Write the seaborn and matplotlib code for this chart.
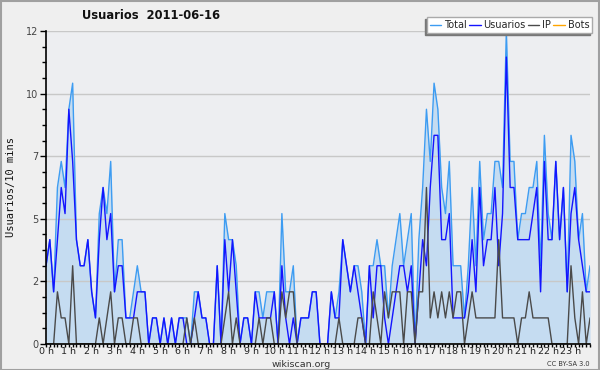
import matplotlib
matplotlib.use("Agg")
import matplotlib.pyplot as plt
import seaborn as sns
import pandas as pd
from matplotlib.patches import Rectangle
from matplotlib.lines import Line2D
from matplotlib.ticker import FixedLocator, MultipleLocator

# ---- data (10-minute intervals, 144 points) ----
total = [
    3, 4, 2, 6, 7, 6, 9, 10, 4, 3,
    3, 4, 2, 1, 5, 6, 5, 7, 2, 4,
    4, 1, 1, 2, 3, 2, 2, 0, 1, 1,
    0, 1, 0, 1, 0, 1, 1, 1, 0, 2,
    2, 1, 1, 0, 0, 3, 0, 5, 4, 4,
    3, 0, 1, 1, 0, 2, 2, 1, 2, 2,
    2, 0, 5, 2, 2, 3, 0, 1, 1, 1,
    2, 2, 0, 0, 0, 2, 1, 2, 4, 3,
    2, 3, 3, 2, 0, 3, 3, 4, 3, 3,
    1, 3, 4, 5, 3, 4, 5, 0, 4, 6,
    9, 7, 10, 9, 6, 5, 7, 3, 3, 3,
    1, 3, 6, 3, 7, 4, 5, 5, 7, 7,
    6, 12, 7, 7, 4, 5, 5, 6, 6, 7,
    3, 8, 5, 4, 7, 4, 6, 2, 8, 7,
    4, 5, 2, 3,
]
usuarios = [
    3, 4, 2, 4, 6, 5, 9, 7, 4, 3,
    3, 4, 2, 1, 4, 6, 4, 5, 2, 3,
    3, 1, 1, 1, 2, 2, 2, 0, 1, 1,
    0, 1, 0, 1, 0, 1, 1, 0, 0, 1,
    2, 1, 1, 0, 0, 3, 0, 4, 2, 4,
    2, 0, 1, 1, 0, 2, 1, 1, 1, 1,
    2, 0, 3, 1, 0, 1, 0, 1, 1, 1,
    2, 2, 0, 0, 0, 2, 1, 1, 4, 3,
    2, 3, 2, 1, 0, 3, 1, 3, 3, 1,
    0, 1, 2, 3, 3, 2, 3, 0, 2, 4,
    3, 6, 8, 8, 4, 4, 5, 1, 1, 1,
    1, 2, 4, 2, 6, 3, 4, 4, 6, 3,
    5, 11, 6, 6, 4, 4, 4, 4, 5, 6,
    2, 7, 4, 4, 7, 4, 6, 2, 5, 6,
    4, 3, 2, 2,
]
ip = [
    0, 0, 0, 2, 1, 1, 0, 3, 0, 0,
    0, 0, 0, 0, 1, 0, 1, 2, 0, 1,
    1, 0, 0, 1, 1, 0, 0, 0, 0, 0,
    0, 0, 0, 0, 0, 0, 0, 1, 0, 1,
    0, 0, 0, 0, 0, 0, 0, 1, 2, 0,
    1, 0, 0, 0, 0, 0, 1, 0, 1, 1,
    0, 0, 2, 1, 2, 2, 0, 0, 0, 0,
    0, 0, 0, 0, 0, 0, 0, 1, 0, 0,
    0, 0, 1, 1, 0, 0, 2, 1, 0, 2,
    1, 2, 2, 2, 0, 2, 2, 0, 2, 2,
    6, 1, 2, 1, 2, 1, 2, 1, 2, 2,
    0, 1, 2, 1, 1, 1, 1, 1, 1, 4,
    1, 1, 1, 1, 0, 1, 1, 2, 1, 1,
    1, 1, 1, 0, 0, 0, 0, 0, 3, 1,
    0, 2, 0, 1,
]
bots = [
    0, 0, 0, 0, 0, 0, 0, 0, 0, 0, 0, 0, 0, 0, 0, 0, 0, 0, 0, 0, 0, 0, 0, 0,
    0, 0, 0, 0, 0, 0, 0, 0, 0, 0, 0, 0, 0, 0, 0, 0, 0, 0, 0, 0, 0, 0, 0, 0,
    0, 0, 0, 0, 0, 0, 0, 0, 0, 0, 0, 0, 0, 0, 0, 0, 0, 0, 0, 0, 0, 0, 0, 0,
    0, 0, 0, 0, 0, 0, 0, 0, 0, 0, 0, 0, 0, 0, 0, 0, 0, 0, 0, 0, 0, 0, 0, 0,
    0, 0, 0, 0, 0, 0, 0, 0, 0, 0, 0, 0, 0, 0, 0, 0, 0, 0, 0, 0, 0, 0, 0, 0,
    0, 0, 0, 0, 0, 0, 0, 0, 0, 0, 0, 0, 0, 0, 0, 0, 0, 0, 0, 0, 0, 0, 0, 0,
]
hour_labels = ["0 h", "1 h", "2 h", "3 h", "4 h", "5 h", "6 h", "7 h",
               "8 h", "9 h", "10 h", "11 h", "12 h", "13 h", "14 h", "15 h",
               "16 h", "17 h", "18 h", "19 h", "20 h", "21 h", "22 h", "23 h"]
y_tick_values = [0, 2.4, 4.8, 7.2, 9.6, 12]
y_tick_labels = ["0", "2", "5", "7", "10", "12"]
series_names = ["Total", "Usuarios", "IP", "Bots"]
series_colors = ["#3d9cf2", "#1414ff", "#4a4a4a", "#ffa500"]

# ---- styling ----
sns.set_style("white")
plt.rcParams['font.family'] = ['DejaVu Sans']

fig = plt.figure(figsize=(6, 3.7), dpi=100, facecolor="#efefef")
ax = fig.add_axes([0.0767, 0.0703, 0.9067, 0.8459])
ax.set_facecolor("#edeef1")

df = pd.DataFrame({"t": range(len(total)), "Total": total,
                   "Usuarios": usuarios, "IP": ip, "Bots": bots})

ax.fill_between(df["t"], df["Total"], 0, color="#c5dcf1", lw=0, zorder=1)
for name, col in zip(series_names, series_colors):
    sns.lineplot(data=df, x="t", y=name, ax=ax, color=col, lw=1.0,
                 legend=False, zorder=3)

ax.set_xlim(0, len(total) - 1)
ax.set_ylim(0, 12)
ax.set_xlabel("")
ax.set_ylabel("")

ax.yaxis.set_major_locator(FixedLocator(y_tick_values))
ax.set_yticklabels(y_tick_labels)
ax.yaxis.set_minor_locator(MultipleLocator(0.6))
ax.xaxis.set_major_locator(FixedLocator(list(range(0, 144, 6))))
ax.set_xticklabels(hour_labels)
ax.xaxis.set_minor_locator(MultipleLocator(1))

ax.tick_params(axis="y", which="major", direction="out", length=4.5, width=1,
               color="black", labelcolor="#444444", labelsize=7, pad=1)
ax.tick_params(axis="y", which="minor", direction="out", length=2.8, width=1,
               color="black")
ax.tick_params(axis="x", which="both", direction="out", length=2.2, width=1,
               color="black", labelcolor="#222222", labelsize=6.8, pad=0.3)
ax.tick_params(left=True, bottom=True, which="both")

ax.yaxis.grid(True, color="#c8c8c8", lw=1)
ax.xaxis.grid(False)
ax.set_axisbelow(False)

for s in ["top", "right"]:
    ax.spines[s].set_visible(False)
for s in ["left", "bottom"]:
    ax.spines[s].set_color("black")
    ax.spines[s].set_linewidth(1.2)
    ax.spines[s].set_zorder(4)

# legend
handles = [Line2D([0], [0], color=c, lw=1.0) for c in series_colors]
leg = fig.legend(handles, series_names, loc="upper right",
                 bbox_to_anchor=(0.987, 0.954), bbox_transform=fig.transFigure,
                 ncol=4, fontsize=7, frameon=True, fancybox=False,
                 handlelength=1.2, handletextpad=0.3, columnspacing=0.2,
                 borderpad=0.3, borderaxespad=0,
                 shadow={"ox": -1.5, "oy": -1.5, "facecolor": "#777777",
                         "edgecolor": "#777777", "alpha": 1})
leg.get_frame().set_facecolor("white")
leg.get_frame().set_edgecolor("#aaaaaa")
leg.get_frame().set_linewidth(1)

# texts
fig.text(0.251, 0.957, "Usuarios  2011-06-16", ha="center", va="center",
         fontsize=8.3, fontweight="bold", color="#111111")
fig.text(0.018, 0.495, "Usuarios/10 mins", rotation=90, ha="center",
         va="center", fontsize=7.5, family="DejaVu Sans Mono", color="#111111")
fig.text(0.502, 0.016, "wikiscan.org", ha="center", va="center",
         fontsize=6.8, color="#333333")
fig.text(0.983, 0.017, "CC BY-SA 3.0", ha="right", va="center",
         fontsize=4.8, color="#333333")

# outer border
fig.patches.append(Rectangle((0.001, 0.001), 0.997, 0.996,
                             transform=fig.transFigure, fill=False,
                             edgecolor="#a0a0a0", lw=1.5, zorder=10))

fig.savefig("out.png", dpi=100, facecolor=fig.get_facecolor())
